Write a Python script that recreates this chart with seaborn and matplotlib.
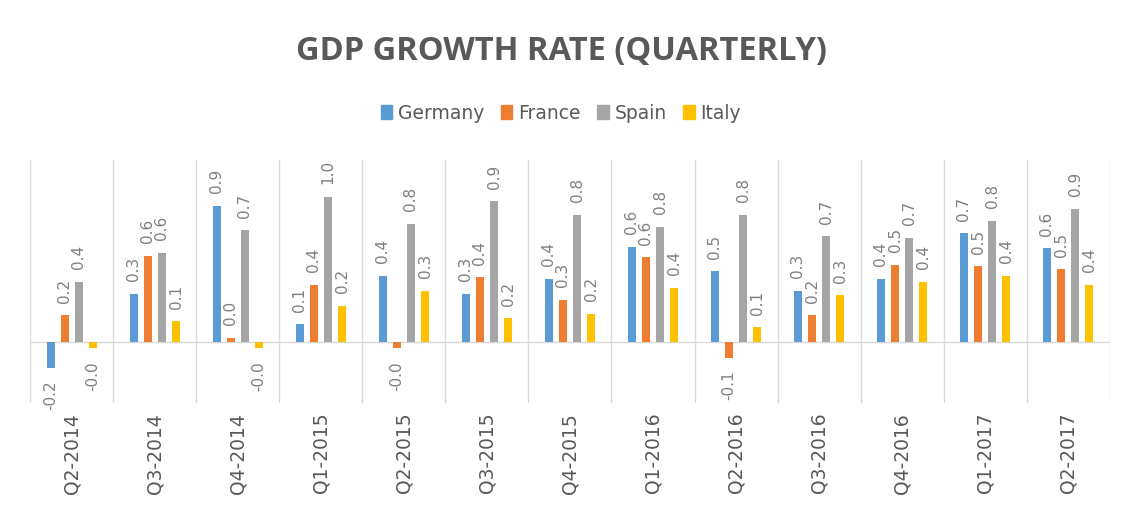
import numpy as np
import pandas as pd
import matplotlib
matplotlib.use("Agg")
import matplotlib.pyplot as plt
import seaborn as sns

# quarters and growth rates (%)
quarters = ["Q2-2014", "Q3-2014", "Q4-2014", "Q1-2015", "Q2-2015", "Q3-2015", "Q4-2015",
            "Q1-2016", "Q2-2016", "Q3-2016", "Q4-2016", "Q1-2017", "Q2-2017"]
germany = [-0.17, 0.32, 0.90, 0.12, 0.44, 0.32, 0.42, 0.63, 0.47, 0.34, 0.42, 0.72, 0.62]
france = [0.18, 0.57, 0.03, 0.38, -0.04, 0.43, 0.28, 0.56, -0.10, 0.18, 0.51, 0.50, 0.48]
spain = [0.40, 0.59, 0.74, 0.96, 0.78, 0.93, 0.84, 0.76, 0.84, 0.70, 0.69, 0.80, 0.88]
italy = [-0.04, 0.14, -0.04, 0.24, 0.34, 0.16, 0.19, 0.36, 0.10, 0.31, 0.40, 0.44, 0.38]

countries = ["Germany", "France", "Spain", "Italy"]
colors = ["#5B9BD5", "#ED7D31", "#A5A5A5", "#FFC000"]

df = pd.DataFrame({"Quarter": quarters, "Germany": germany, "France": france,
                   "Spain": spain, "Italy": italy})
long_df = df.melt(id_vars="Quarter", var_name="Country", value_name="Growth")

text_col = "#595959"

fig = plt.figure(figsize=(11.22, 5.07), dpi=100)
ax = fig.add_axes([0.027, 0.205, 0.962, 0.479])

sns.barplot(data=long_df, x="Quarter", y="Growth", hue="Country", hue_order=countries,
            palette=colors, saturation=1, width=0.68, gap=0.45, ax=ax, legend=False)

for cont in ax.containers:
    ax.bar_label(cont, fmt="%.1f", rotation=90, padding=9, color="#808080", fontsize=11)

ax.set_ylim(-0.4, 1.2)
ax.set_xlim(-0.5, len(quarters) - 0.5)
ax.axhline(0, color="#D9D9D9", lw=1, zorder=0)
ax.set_xticks(np.arange(-0.5, len(quarters), 1), minor=True)
ax.grid(which="minor", axis="x", color="#D9D9D9", lw=1)
ax.grid(which="major", visible=False)
ax.set_axisbelow(True)
ax.set_yticks([])
ax.tick_params(axis="x", which="both", length=0)
ax.tick_params(axis="x", which="major", pad=7, labelrotation=90, labelcolor=text_col, labelsize=13.5)
for lab in ax.get_xticklabels():
    lab.set_va("top")
ax.set_xlabel("")
ax.set_ylabel("")
for s in ax.spines.values():
    s.set_visible(False)

fig.text(0.5, 0.898, "GDP GROWTH RATE (QUARTERLY)", ha="center", va="center",
         fontsize=23.5, fontweight="bold", color=text_col, family="Open Sans")

handles = [plt.Rectangle((0, 0), 1, 1, color=c) for c in colors]
fig.legend(handles, countries, loc="center", bbox_to_anchor=(0.5, 0.777), ncol=4,
           frameon=False, fontsize=13.5, handlelength=0.6, handleheight=0.7,
           handletextpad=0.3, columnspacing=0.9, labelcolor=text_col)

fig.savefig("out.png", dpi=100)
